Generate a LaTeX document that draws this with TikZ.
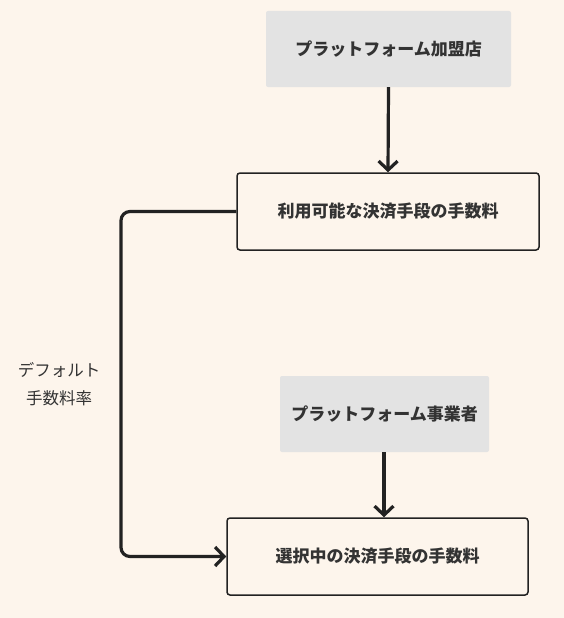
\documentclass[tikz,border=0pt]{standalone}
\usepackage{fontspec}
\setmainfont{Noto Sans CJK JP}
\usetikzlibrary{arrows.meta}
\definecolor{bg}{HTML}{FDF5EC}
\definecolor{ink}{HTML}{222222}
\definecolor{txt}{HTML}{333333}
\definecolor{greyfill}{HTML}{E3E3E3}
\tikzset{
  greybox/.style={fill=greyfill, rounded corners=2pt, inner sep=0pt, font=\bfseries\fontsize{17}{20}\selectfont, text=txt},
  whitebox/.style={draw=ink, line width=1.5pt, fill=bg, rounded corners=3pt, inner sep=0pt, font=\bfseries\fontsize{17}{20}\selectfont, text=txt},
  conn/.style={draw=ink, line width=3.2pt, -{Straight Barb[length=9pt, width=19pt, line width=3.2pt]}},
  lbl/.style={font=\fontsize{16.5}{28}\selectfont, text=txt, align=center}
}
\begin{document}
\begin{tikzpicture}[x=1pt, y=-1pt]
\fill[bg] (0,0) rectangle (564,618);
\useasboundingbox (0,0) rectangle (564,618);
\node[greybox, minimum width=245pt, minimum height=76pt] (a) at (388.5,49) {プラットフォーム加盟店};
\node[whitebox, minimum width=302pt, minimum height=77pt] (b) at (388,211.5) {利用可能な決済手段の手数料};
\node[greybox, minimum width=209pt, minimum height=76pt] (c) at (384.5,414) {プラットフォーム事業者};
\node[whitebox, minimum width=301pt, minimum height=77pt] (d) at (377.5,556.5) {選択中の決済手段の手数料};
\node[lbl] (l) at (59,384) {デフォルト\\手数料率};
\coordinate (k) at (121,211.5);
\draw[conn] (a.south) -- (b.north);
\draw[conn] (c.south -| 384,0) -- (d.north -| 384,0);
\draw[conn, rounded corners=9pt] (b.west) -- (k) |- (d.west);
\end{tikzpicture}
\end{document}
